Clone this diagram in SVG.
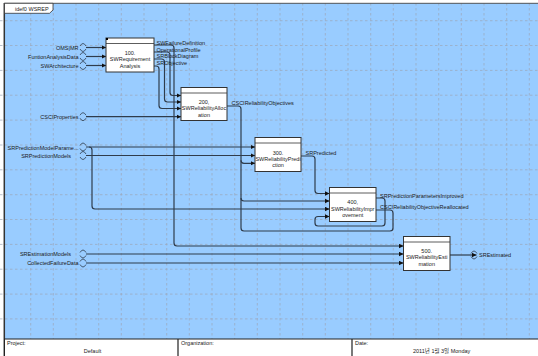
<svg xmlns="http://www.w3.org/2000/svg" width="538" height="356" viewBox="0 0 538 356">
<defs>
<style>
.ln{fill:none;stroke:#2f3c4c;stroke-width:1.2}
.ar{marker-end:url(#ah)}
.tn{fill:none;stroke:#2f3c4c;stroke-width:0.8}
.t{font-family:"Liberation Sans",Arial,sans-serif;font-size:5.5px;fill:#1a1a1a}
.c{text-anchor:middle}
.e{text-anchor:end}
.box{fill:#fff;stroke:#333;stroke-width:1}
.hd{stroke:#333;stroke-width:0.8}
.g{stroke:#9ca6b8;stroke-width:0.7;stroke-dasharray:2.5 2.5;fill:none}
</style>
<marker id="ah" markerWidth="5" markerHeight="5" refX="4.5" refY="2.5" orient="auto" markerUnits="userSpaceOnUse"><path d="M0,0.3 L4.5,2.5 L0,4.7z" fill="#111"/></marker>
</defs>
<rect x="0" y="0" width="538" height="356" fill="#fff"/>
<rect x="4" y="3" width="534" height="336" fill="#99ccff"/>
<g id="grid" class="g">
<path d="M0,20.7H538M0,45.5H538M0,70.4H538M0,95.2H538M0,120.1H538M0,145H538M0,169.8H538M0,194.7H538M0,219.5H538M0,244.4H538M0,269.2H538M0,294.1H538M0,318.9H538"/>
<path d="M30.7,3V339M53.3,3V339M76,3V339M98.7,3V339M121.3,3V339M144,3V339M166.7,3V339M189.3,3V339M212,3V339M234.7,3V339M257.3,3V339M280,3V339M302.7,3V339M325.3,3V339M348,3V339M370.7,3V339M393.3,3V339M416,3V339M438.7,3V339M461.3,3V339M484,3V339M506.7,3V339M529.3,3V339"/>
</g>
<path d="M4,3.3H538" stroke="#555" stroke-width="1"/>
<path d="M4.3,3V356" stroke="#333" stroke-width="1.5"/>
<g id="tab">
<path d="M4.5,3.3H53V10L49.5,13.3H4.5Z" fill="#fff" stroke="#333" stroke-width="0.8"/>
<text class="t" x="15" y="10.5">idef0 WSREP</text>
</g>
<g id="connectors">
<path class="ln ar" d="M86,47.5H106"/>
<path class="ln ar" d="M86,56.5H106"/>
<path class="ln ar" d="M86,65.5H106"/>
<path class="ln ar" d="M154,45H171q3,0 3,3V243q0,3 3,3H403.5"/>
<path class="ln ar" d="M154,52H167q3,0 3,3V92.5q0,3 3,3H181"/>
<path class="ln ar" d="M154,59H161.5q3,0 3,3V99q0,3 3,3H181"/>
<path class="ln ar" d="M154,66H156q3,0 3,3V105.5q0,3 3,3H181"/>
<path class="ln ar" d="M86,116.7H181"/>
<path class="ln" d="M227,106H238q3,0 3,3V228q0,3 3,3H390q3,0 3,-3V213q0,-3 -3,-3H376"/>
<path class="ln ar" d="M241,160.3q0,3 3,3H255"/>
<path class="ln ar" d="M241,198q0,3 3,3H329.5"/>
<path class="ln ar" d="M86,147H255"/>
<path class="ln ar" d="M89,147q3,0 3,3V206q0,3 3,3H329.5"/>
<path class="ln ar" d="M86,155.5H255"/>
<path class="ln ar" d="M301,156H312q3,0 3,3V190.5q0,3 3,3H329.5"/>
<path class="ln ar" d="M376,198H382q3,0 3,3V223q0,3 -3,3H318q-3,0 -3,-3V219.5q0,-3 3,-3H329.5"/>
<path class="ln ar" d="M86,254H403.5"/>
<path class="ln ar" d="M86,263H403.5"/>
<path class="ln ar" d="M450,255H476.5"/>
<path class="tn" d="M80,46Q83,41 86,46M80,49Q83,54 86,49M80,55Q83,50 86,55M80,58Q83,63 86,58M80,64Q83,59 86,64M80,67Q83,72 86,67M80,115.2Q83,110.2 86,115.2M80,118.2Q83,123.2 86,118.2M80,145.5Q83,140.5 86,145.5M80,148.5Q83,153.5 86,148.5M80,154Q83,149 86,154M80,157Q83,162 86,157M80,252.5Q83,247.5 86,252.5M80,255.5Q83,260.5 86,255.5M80,261.5Q83,256.5 86,261.5M80,264.5Q83,269.5 86,264.5M471,253.5Q474,248.5 477,253.5M471,256.5Q474,261.5 477,256.5"/>
<text class="t e" x="78.5" y="49.5">OMS|MR</text>
<text class="t e" x="78.5" y="58.5">FuntionAnalysisData</text>
<text class="t e" x="78.5" y="67.5">SWArchitecture</text>
<text class="t e" x="78.5" y="118.7">CSCIProperties</text>
<text class="t e" x="78.5" y="149.5">SRPredictionModelParame...</text>
<text class="t e" x="71" y="158">SRPredictionModels</text>
<text class="t e" x="71" y="256">SREstimationModels</text>
<text class="t e" x="78.5" y="265">CollectedFailureData</text>
<text class="t" x="156.5" y="44.5">SWFailureDefinition</text>
<text class="t" x="156.5" y="51.5">OperationalProfile</text>
<text class="t" x="156.5" y="58.3">SRBlockDiagram</text>
<text class="t" x="156.5" y="65.3">SRObjective</text>
<text class="t" x="231.5" y="105.3">CSCIReliabilityObjectives</text>
<text class="t" x="305.5" y="154.5">SRPredicted</text>
<text class="t" x="380" y="197.5">SRPredictionParametersImproved</text>
<text class="t" x="380" y="208.7">CSCIReliabilityObjectiveReallocated</text>
<text class="t" x="479" y="257">SREstimated</text>
</g>
<g id="n100">
<rect class="box" x="106" y="38" width="48" height="34"/>
<path class="hd" d="M106,43.5H154"/>
<rect x="106" y="38" width="2" height="2" fill="#000"/>
<text class="t c" x="130" y="54.5">100.</text>
<text class="t c" x="130" y="61.3">SWRequirement</text>
<text class="t c" x="130" y="68">Analysis</text>
</g>
<g id="n200">
<rect class="box" x="181" y="87.5" width="46" height="33"/>
<path class="hd" d="M181,93H227"/>
<text class="t c" x="204" y="103.7">200,</text>
<text class="t c" x="204" y="110.4">SWReliabilityAlloc</text>
<text class="t c" x="204" y="117.3">ation</text>
</g>
<g id="n300">
<rect class="box" x="255" y="137.5" width="46" height="34"/>
<path class="hd" d="M255,143H301"/>
<text class="t c" x="278" y="154.5">300.</text>
<text class="t c" x="278" y="160.7">SWReliabilityPredi</text>
<text class="t c" x="278" y="167.3">ction</text>
</g>
<g id="n400">
<rect class="box" x="329.5" y="187.5" width="46.5" height="34"/>
<path class="hd" d="M329.5,193H376"/>
<text class="t c" x="352.7" y="203.7">400,</text>
<text class="t c" x="352.7" y="210.7">SWReliabilityImpr</text>
<text class="t c" x="352.7" y="217">ovement</text>
</g>
<g id="n500">
<rect class="box" x="403.5" y="236.5" width="46.5" height="34"/>
<path class="hd" d="M403.5,242H450"/>
<text class="t c" x="426.7" y="252.7">500.</text>
<text class="t c" x="426.7" y="258.7">SWReliabilityEsti</text>
<text class="t c" x="426.7" y="266">mation</text>
</g>
<g id="footer">
<rect x="4.5" y="339" width="534" height="18" fill="#fff" stroke="#222" stroke-width="1"/>
<path d="M178,339V356M352,339V356" stroke="#222" stroke-width="1.2"/>
<text class="t" x="7" y="344.5">Project:</text>
<text class="t c" x="92.5" y="352.5">Default</text>
<text class="t" x="181" y="344.5">Organization:</text>
<text class="t" x="355" y="344.5">Date:</text>
<text class="t" x="413" y="352.5" style="font-family:'Liberation Sans','Noto Sans CJK KR',sans-serif">2011년 1월 3일 Monday</text>
</g>
</svg>
